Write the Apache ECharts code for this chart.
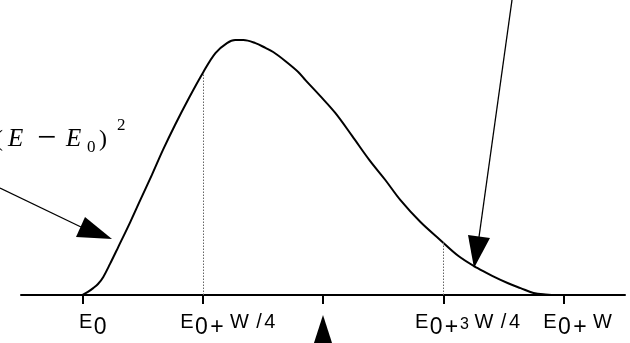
<!DOCTYPE html>
<html>
<head>
<meta charset="utf-8">
<script src="https://cdn.jsdelivr.net/npm/echarts@6/dist/echarts.min.js"></script>
<style>
  html, body { margin: 0; padding: 0; background: #fff; }
  #chart { width: 630px; height: 343px; }
</style>
</head>
<body>
<div id="chart"></div>
<script>
// Spectrum shape: energy as a fraction of W above E0, intensity relative to the maximum
const energy = [0, 0.011, 0.022, 0.032, 0.043, 0.057, 0.074, 0.099, 0.120, 0.144,
  0.167, 0.192, 0.221, 0.251, 0.276, 0.300, 0.317, 0.334, 0.359, 0.380,
  0.396, 0.421, 0.448, 0.463, 0.494, 0.525, 0.560, 0.596, 0.629, 0.660,
  0.702, 0.743, 0.781, 0.820, 0.851, 0.883, 0.910, 0.937, 0.962, 0.987, 1.0];
const intensity = [0, 0.012, 0.027, 0.043, 0.071, 0.122, 0.188, 0.286, 0.373, 0.471,
  0.569, 0.667, 0.773, 0.875, 0.949, 0.988, 1.0, 1.0, 0.988, 0.969,
  0.953, 0.918, 0.875, 0.843, 0.780, 0.714, 0.624, 0.529, 0.451, 0.373,
  0.286, 0.216, 0.153, 0.106, 0.075, 0.047, 0.027, 0.008, 0.002, 0, 0];

// Axis ticks and their labels
const tickValues = [0, 0.25, 0.5, 0.75, 1];
const tickLabels = ['E0', 'E0+W/4', '', 'E0+3W/4', 'E0+W'];

// Dotted guides from the axis up to the curve
const guideEnergy = [0.25, 0.75];
const guideHeight = [0.87, 0.208];

// Rich-text markup for each tick label (leading spacer pushes text right of its tick)
const labelMarkup = [
  '{sp0| }{e|E}{z|0}',
  '{sp1| }{e|E}{z|0}{pl|+}{w|W}{sl|/}{d|4}',
  '',
  '{sp3| }{e|E}{z|0}{pl|+}{t|3}{w|W}{sl|/}{d|4}',
  '{sp4| }{e|E}{z|0}{pl|+}{w|W}'
];

const sans = 'Liberation Sans';
const serif = 'Liberation Serif';
function tok(size, width, padTop, extra) {
  return Object.assign({
    fontFamily: sans, fontSize: size, width: width, align: 'center',
    verticalAlign: 'top', padding: [padTop, 0, 0, 0], color: '#000'
  }, extra || {});
}
function mtok(size, width, padTop, extra) {
  return Object.assign({
    fontFamily: serif, fontSize: size, width: width, align: 'left',
    verticalAlign: 'top', padding: [padTop, 0, 0, 0], fill: '#000'
  }, extra || {});
}

const chart = echarts.init(document.getElementById('chart'), null, { renderer: 'canvas' });

chart.setOption({
  animation: false,
  backgroundColor: '#fff',
  grid: { left: 21, right: 5, top: 0, bottom: 48, containLabel: false },
  xAxis: {
    type: 'value',
    min: -0.128,
    max: 1.127,
    splitLine: { show: false },
    axisLine: { show: true, onZero: false, lineStyle: { color: '#000', width: 2 } },
    axisTick: {
      show: true,
      customValues: tickValues,
      length: 9,
      lineStyle: { color: '#000', width: 2 }
    },
    axisLabel: {
      show: true,
      customValues: tickValues,
      hideOverlap: false,
      showMinLabel: true,
      showMaxLabel: true,
      margin: 17,
      formatter: function (v) {
        const i = tickValues.indexOf(v);
        return i >= 0 ? labelMarkup[i] : '';
      },
      rich: {
        sp0: { width: 21, verticalAlign: 'top' },
        sp1: { width: 50, verticalAlign: 'top' },
        sp3: { width: 48, verticalAlign: 'top' },
        sp4: { width: 32, verticalAlign: 'top' },
        e: tok(20, 14, 0),
        w: tok(20, 29, 0),
        sl: tok(20, 10, 0),
        d: tok(20, 12, 0),
        z: tok(23, 15, 4),
        pl: tok(23, 16, 4),
        t: tok(16, 10, 5)
      }
    }
  },
  yAxis: {
    type: 'value',
    min: 0,
    max: 1.157,
    show: false,
    splitLine: { show: false }
  },
  series: [{
    type: 'line',
    data: energy.map((x, i) => [x, intensity[i]]),
    showSymbol: false,
    smooth: 0.35,
    lineStyle: { color: '#000', width: 2 },
    markLine: {
      silent: true,
      symbol: ['none', 'none'],
      label: { show: false },
      lineStyle: { color: '#666', width: 1, type: [1.5, 1.5] },
      data: guideEnergy.map((x, i) => [{ coord: [x, 0] }, { coord: [x, guideHeight[i]] }])
    },
    z: 3
  }],
  graphic: [
    // formula annotation at the upper left
    {
      type: 'text',
      x: -5,
      y: 110,
      style: {
        text: '{p|(}{i|E}{m|−}{j|E}{s|0}{q|)}{u|2}',
        verticalAlign: 'top',
        rich: {
          p: mtok(24, 13, 18),
          i: mtok(25, 29, 17, { fontStyle: 'italic' }),
          m: mtok(34, 29, 12),
          j: mtok(25, 21, 17, { fontStyle: 'italic' }),
          s: mtok(17, 12, 29),
          q: mtok(24, 18, 18),
          u: mtok(17, 12, 7)
        }
      }
    },
    // arrow from the formula to the rising edge
    { type: 'line', shape: { x1: 0, y1: 188, x2: 81, y2: 227 }, style: { stroke: '#000', lineWidth: 1.3 } },
    { type: 'polygon', shape: { points: [[85, 217], [76, 237], [112, 239]] }, style: { fill: '#000' } },
    // arrow from above to the falling tail
    { type: 'line', shape: { x1: 512, y1: 0, x2: 479, y2: 237 }, style: { stroke: '#000', lineWidth: 1.3 } },
    { type: 'polygon', shape: { points: [[468, 235], [490, 238], [474, 268]] }, style: { fill: '#000' } },
    // marker under the mid tick
    { type: 'polygon', shape: { points: [[323, 315], [313, 346], [333, 346]] }, style: { fill: '#000' } }
  ]
});
</script>
</body>
</html>
